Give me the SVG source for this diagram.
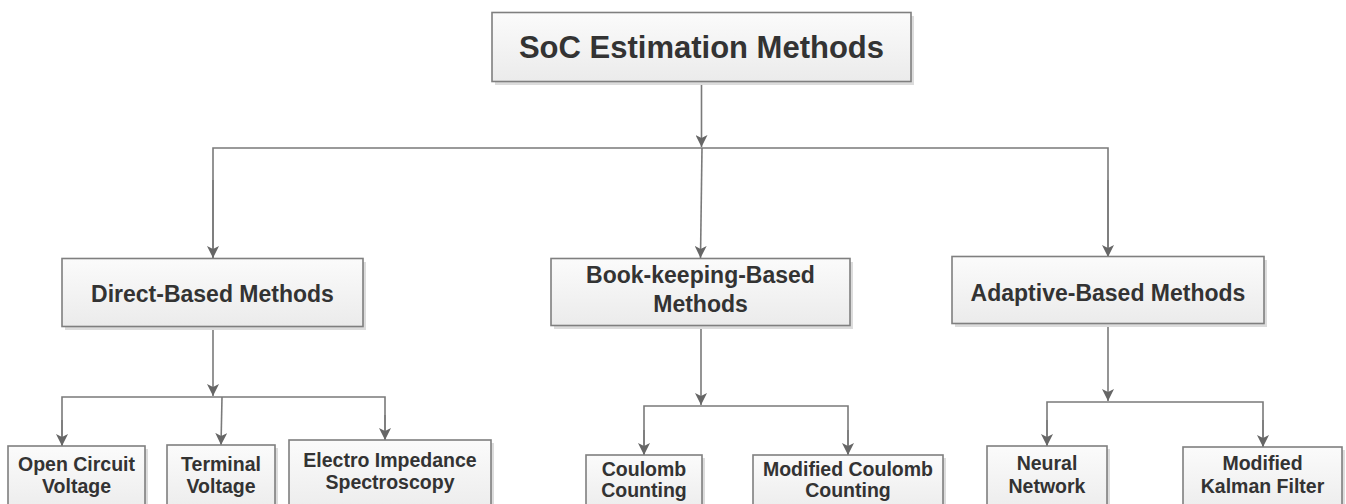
<svg xmlns="http://www.w3.org/2000/svg" width="1346" height="504" viewBox="0 0 1346 504">
<style>
.box{fill:url(#g);stroke:#7f7f7f;stroke-width:1.6}
.sh{fill:#dcdcdc}
.t{font-family:"Liberation Sans",Arial,sans-serif;font-weight:bold;fill:#333;text-anchor:middle}
.l1{font-size:31px}
.l2{font-size:23px}
.l3{font-size:19.5px}
.c{fill:none;stroke:#7a7a7a;stroke-width:1.6}
</style>
<defs>
<linearGradient id="g" x1="0" y1="0" x2="0" y2="1">
<stop offset="0" stop-color="#fbfbfb"/>
<stop offset="1" stop-color="#ebebeb"/>
</linearGradient>
<marker id="a" viewBox="0 0 12 12" refX="12" refY="6" markerWidth="12" markerHeight="12" markerUnits="userSpaceOnUse" orient="auto">
<path d="M0,0 L12,6 L0,12 L3,6 Z" fill="#666"/>
</marker>
</defs>
<rect width="1346" height="504" fill="#fff"/>
<g id="connectors">
<path class="c" d="M701.5,82 V147" marker-end="url(#a)"/>
<path class="c" d="M213,258 V148 H1108 V257"/>
<path class="c" d="M213,180 V258" marker-end="url(#a)"/>
<path class="c" d="M1108,180 V257" marker-end="url(#a)"/>
<path class="c" d="M702,148 L700.5,258" marker-end="url(#a)"/>
<path class="c" d="M213,326 V396" marker-end="url(#a)"/>
<path class="c" d="M62,446 V397 H385 V440"/>
<path class="c" d="M62,420 V446" marker-end="url(#a)"/>
<path class="c" d="M385,415 V440" marker-end="url(#a)"/>
<path class="c" d="M222,397 L221,445" marker-end="url(#a)"/>
<path class="c" d="M701,325 V405" marker-end="url(#a)"/>
<path class="c" d="M644,455 V406 H848 V455"/>
<path class="c" d="M644,430 V455" marker-end="url(#a)"/>
<path class="c" d="M848,430 V455" marker-end="url(#a)"/>
<path class="c" d="M1108,324 V401" marker-end="url(#a)"/>
<path class="c" d="M1047,446 V402 H1263 V447"/>
<path class="c" d="M1047,420 V446" marker-end="url(#a)"/>
<path class="c" d="M1263,420 V447" marker-end="url(#a)"/>
</g>
<g id="n-root">
<rect class="sh" x="495" y="16" width="419" height="69"/>
<rect class="box" x="492" y="12.5" width="419" height="69"/>
<text class="t l1" x="701.5" y="58">SoC Estimation Methods</text>
</g>
<g id="n-direct">
<rect class="sh" x="65" y="262" width="301" height="68"/>
<rect class="box" x="62" y="258.5" width="301" height="68"/>
<text class="t l2" x="212.5" y="302">Direct-Based Methods</text>
</g>
<g id="n-book">
<rect class="sh" x="554" y="262" width="299" height="67"/>
<rect class="box" x="551" y="258.5" width="299" height="67"/>
<text class="t l2" x="700.5" y="283">Book-keeping-Based</text>
<text class="t l2" x="700.5" y="311.5">Methods</text>
</g>
<g id="n-adaptive">
<rect class="sh" x="955" y="260" width="312" height="67"/>
<rect class="box" x="952" y="256.5" width="312" height="67"/>
<text class="t l2" x="1108" y="301">Adaptive-Based Methods</text>
</g>
<g id="n-ocv">
<rect class="sh" x="11" y="449" width="137" height="70"/>
<rect class="box" x="8" y="446" width="137" height="70"/>
<text class="t l3" x="76.5" y="470.5">Open Circuit</text>
<text class="t l3" x="76.5" y="493">Voltage</text>
</g>
<g id="n-tv">
<rect class="sh" x="170" y="448" width="108" height="70"/>
<rect class="box" x="167" y="445" width="108" height="70"/>
<text class="t l3" x="221" y="470.5">Terminal</text>
<text class="t l3" x="221" y="493">Voltage</text>
</g>
<g id="n-eis">
<rect class="sh" x="292" y="443" width="202" height="75"/>
<rect class="box" x="289" y="440" width="202" height="75"/>
<text class="t l3" x="390" y="466.5">Electro Impedance</text>
<text class="t l3" x="390" y="489">Spectroscopy</text>
</g>
<g id="n-cc">
<rect class="sh" x="589" y="458" width="116" height="60"/>
<rect class="box" x="586" y="455" width="116" height="60"/>
<text class="t l3" x="644" y="476">Coulomb</text>
<text class="t l3" x="644" y="497">Counting</text>
</g>
<g id="n-mcc">
<rect class="sh" x="756" y="458" width="190" height="60"/>
<rect class="box" x="753" y="455" width="190" height="60"/>
<text class="t l3" x="848" y="476">Modified Coulomb</text>
<text class="t l3" x="848" y="497">Counting</text>
</g>
<g id="n-nn">
<rect class="sh" x="990" y="449" width="120" height="70"/>
<rect class="box" x="987" y="446" width="120" height="70"/>
<text class="t l3" x="1047" y="470">Neural</text>
<text class="t l3" x="1047" y="492.5">Network</text>
</g>
<g id="n-mkf">
<rect class="sh" x="1186" y="450" width="159" height="70"/>
<rect class="box" x="1183" y="447" width="159" height="70"/>
<text class="t l3" x="1262.5" y="470">Modified</text>
<text class="t l3" x="1262.5" y="492.5">Kalman Filter</text>
</g>
</svg>
